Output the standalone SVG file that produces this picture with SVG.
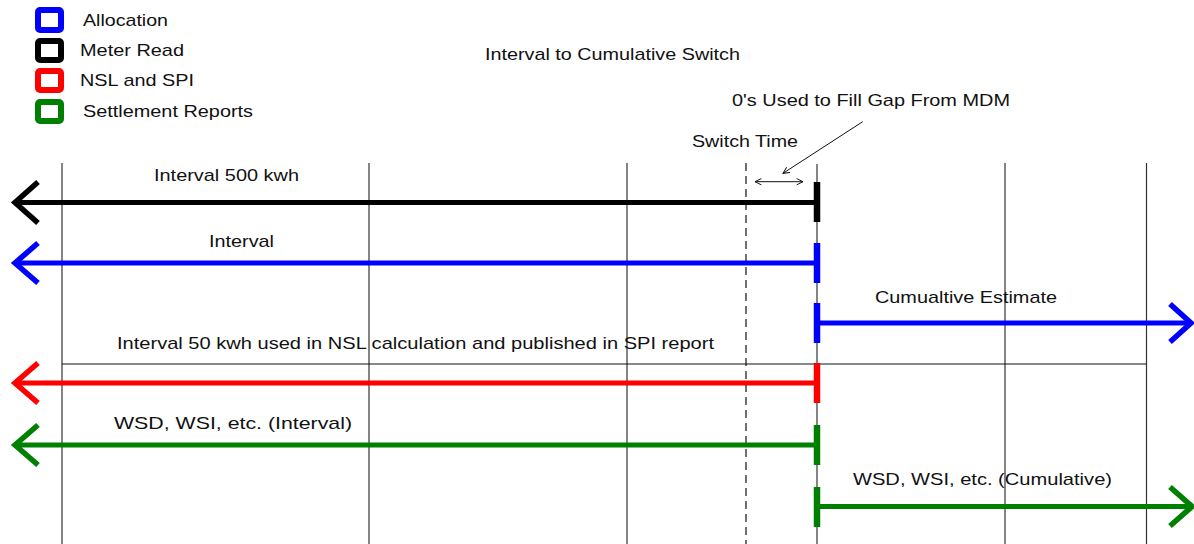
<svg xmlns="http://www.w3.org/2000/svg" width="1194" height="544" viewBox="0 0 1194 544">
<style>
text{font-family:"Liberation Sans",Arial,sans-serif;font-size:17px;fill:#111;}
.grid{stroke:#333;stroke-width:1.2;fill:none;}
.leg{fill:#fff;stroke-width:6;}
.bar{stroke-width:5;fill:none;stroke-linecap:butt;}
.head{stroke-width:5.5;fill:none;stroke-linecap:butt;stroke-linejoin:miter;}
.cap{stroke-width:6.5;fill:none;}
.thin{stroke:#111;stroke-width:1;fill:none;}
</style>
<defs>
<marker id="oa" viewBox="0 0 10 10" refX="9" refY="5" markerWidth="8" markerHeight="8" orient="auto-start-reverse" markerUnits="userSpaceOnUse">
<path d="M1,1 L9,5 L1,9" fill="none" stroke="#111" stroke-width="1.2"/>
</marker>
</defs>
<rect width="1194" height="544" fill="#fff"/>
<g id="legend">
<g id="legend-allocation"><rect class="leg" x="38" y="10" width="23" height="20" rx="2" stroke="#0000ff"/><text x="83" y="25.5" textLength="85" lengthAdjust="spacingAndGlyphs">Allocation</text></g>
<g id="legend-meter"><rect class="leg" x="38" y="41" width="23" height="19" rx="2" stroke="#000"/><text x="80" y="55.5" textLength="104" lengthAdjust="spacingAndGlyphs">Meter Read</text></g>
<g id="legend-nsl"><rect class="leg" x="38" y="71" width="23" height="19" rx="2" stroke="#ff0000"/><text x="80" y="86" textLength="114" lengthAdjust="spacingAndGlyphs">NSL and SPI</text></g>
<g id="legend-settlement"><rect class="leg" x="38" y="102" width="23" height="19" rx="2" stroke="#008000"/><text x="83" y="116.5" textLength="170" lengthAdjust="spacingAndGlyphs">Settlement Reports</text></g>
</g>
<g id="title"><text x="485" y="60" textLength="255" lengthAdjust="spacingAndGlyphs">Interval to Cumulative Switch</text></g>
<g id="grid">
<line class="grid" x1="62" y1="163" x2="62" y2="544"/>
<line class="grid" x1="369" y1="163" x2="369" y2="544"/>
<line class="grid" x1="627" y1="163" x2="627" y2="544"/>
<line class="grid" x1="1005" y1="163" x2="1005" y2="544"/>
<line class="grid" x1="1146.5" y1="163" x2="1146.5" y2="544"/>
<line class="grid" x1="817" y1="164" x2="817" y2="544"/>
<line x1="746" y1="163" x2="746" y2="544" stroke="#111" stroke-width="1.2" stroke-dasharray="8,5"/>
<line class="thin" x1="62" y1="364" x2="1146.5" y2="364"/>
</g>
<g id="switch-time"><text x="692" y="147" textLength="106" lengthAdjust="spacingAndGlyphs">Switch Time</text></g>
<g id="gap-note"><text x="732" y="106" textLength="278" lengthAdjust="spacingAndGlyphs">0's Used to Fill Gap From MDM</text></g>
<g id="connectors">
<line class="thin" x1="755" y1="181.7" x2="803" y2="181.7" marker-start="url(#oa)" marker-end="url(#oa)"/>
<line class="thin" x1="862.7" y1="121.7" x2="783" y2="173.3" marker-end="url(#oa)"/>
<g id="meter-interval" stroke="#000">
<line class="bar" x1="14" y1="202.5" x2="817" y2="202.5"/>
<path class="head" d="M38,182 L15,202.5 L38,223"/>
<line class="cap" x1="817" y1="182" x2="817" y2="222"/>
</g>
<g id="alloc-interval" stroke="#0000ff">
<line class="bar" x1="15" y1="263" x2="817" y2="263"/>
<path class="head" d="M38,243 L15,263 L38,283"/>
<line class="cap" x1="817" y1="243" x2="817" y2="283"/>
</g>
<g id="alloc-cumulative" stroke="#0000ff">
<line class="bar" x1="817" y1="323" x2="1191" y2="323"/>
<path class="head" d="M1170,304 L1191,323 L1170,342"/>
<line class="cap" x1="817" y1="303" x2="817" y2="343"/>
</g>
<g id="nsl-interval" stroke="#ff0000">
<line class="bar" x1="15" y1="383" x2="817" y2="383"/>
<path class="head" d="M38,363 L15,383 L38,403"/>
<line class="cap" x1="817" y1="363" x2="817" y2="403"/>
</g>
<g id="settle-interval" stroke="#008000">
<line class="bar" x1="15" y1="445" x2="817" y2="445"/>
<path class="head" d="M38,425 L15,445 L38,465"/>
<line class="cap" x1="817" y1="425" x2="817" y2="465"/>
</g>
<g id="settle-cumulative" stroke="#008000">
<line class="bar" x1="817" y1="506.5" x2="1192" y2="506.5"/>
<path class="head" d="M1170,487 L1192,506.5 L1170,526"/>
<line class="cap" x1="817" y1="487" x2="817" y2="527"/>
</g>
</g>
<g id="labels">
<text x="154" y="181" textLength="145" lengthAdjust="spacingAndGlyphs">Interval 500 kwh</text>
<text x="209" y="247" textLength="65" lengthAdjust="spacingAndGlyphs">Interval</text>
<text x="875" y="303" textLength="182" lengthAdjust="spacingAndGlyphs">Cumualtive Estimate</text>
<text x="117" y="349" textLength="597" lengthAdjust="spacingAndGlyphs">Interval 50 kwh used in NSL calculation and published in SPI report</text>
<text x="114" y="429" textLength="238" lengthAdjust="spacingAndGlyphs">WSD, WSI, etc. (Interval)</text>
<text x="853" y="485" textLength="259" lengthAdjust="spacingAndGlyphs">WSD, WSI, etc. (Cumulative)</text>
</g>
</svg>
